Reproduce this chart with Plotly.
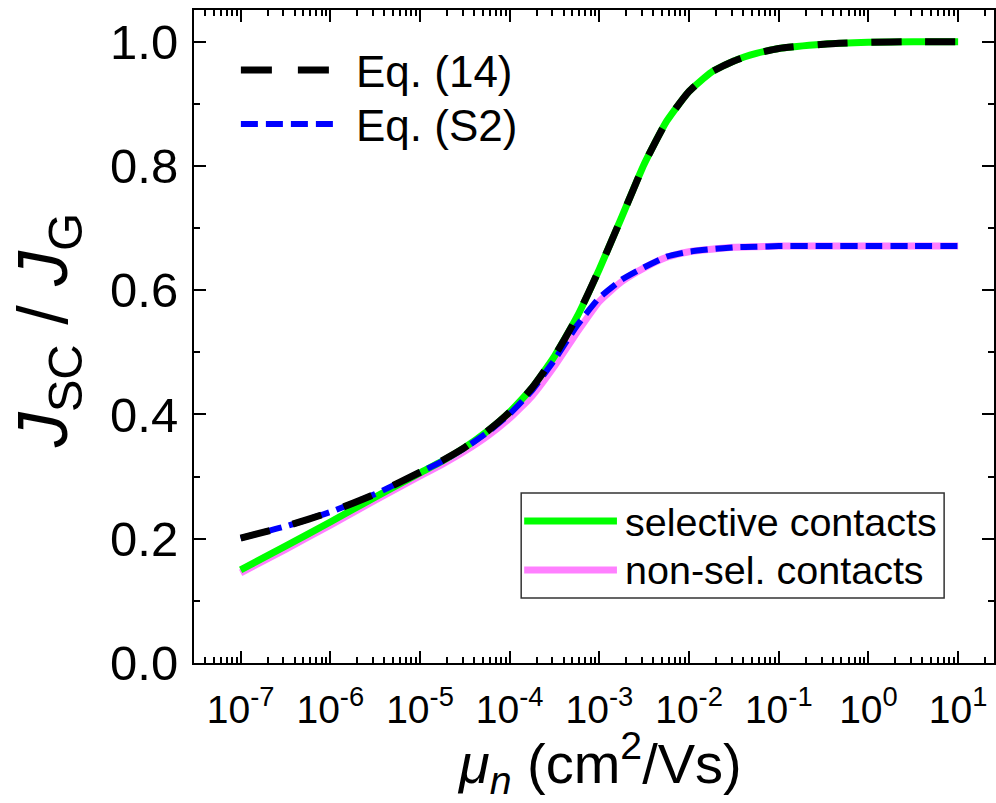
import plotly.graph_objects as go

# ---- data ----
log_mu = [-7, -6.5, -6, -5.5, -5, -4.75, -4.5, -4.25, -4, -3.75, -3.5, -3.25, -3,
          -2.75, -2.5, -2.25, -2, -1.75, -1.5, -1.25, -1, -0.5, 0, 0.5, 1]
mu = [10 ** v for v in log_mu]

selective = [0.150, 0.188, 0.227, 0.267, 0.306, 0.325, 0.347, 0.373, 0.404, 0.443,
             0.494, 0.557, 0.634, 0.718, 0.803, 0.872, 0.920, 0.951, 0.969, 0.981,
             0.989, 0.996, 0.999, 1.000, 1.000]
nonsel = [0.145, 0.183, 0.222, 0.262, 0.301, 0.320, 0.341, 0.365, 0.394, 0.430,
          0.478, 0.532, 0.582, 0.614, 0.636, 0.653, 0.662, 0.666, 0.669, 0.670,
          0.671, 0.671, 0.671, 0.671, 0.671]
eq14 = [0.201, 0.220, 0.243, 0.272, 0.307, 0.326, 0.347, 0.373, 0.404, 0.443,
        0.494, 0.557, 0.634, 0.718, 0.803, 0.872, 0.920, 0.951, 0.969, 0.981,
        0.989, 0.996, 0.999, 1.000, 1.000]
eqS2 = [0.201, 0.220, 0.243, 0.272, 0.307, 0.325, 0.346, 0.371, 0.401, 0.439,
        0.488, 0.543, 0.588, 0.617, 0.637, 0.654, 0.662, 0.666, 0.669, 0.670,
        0.671, 0.671, 0.671, 0.671, 0.671]

x_tick_exp = [-7, -6, -5, -4, -3, -2, -1, 0, 1]
x_tick_text = ["10<sup>%d</sup>" % e for e in x_tick_exp]
y_tick_vals = [0.0, 0.2, 0.4, 0.6, 0.8, 1.0]
y_tick_text = ["0.0", "0.2", "0.4", "0.6", "0.8", "1.0"]

FONT = "Liberation Sans, Arial, sans-serif"

fig = go.Figure()
fig.add_trace(go.Scatter(x=mu, y=nonsel, mode="lines", name="non-sel. contacts",
                         line=dict(color="#ff80ff", width=7, shape="spline", smoothing=0.5)))
fig.add_trace(go.Scatter(x=mu, y=selective, mode="lines", name="selective contacts",
                         line=dict(color="#00ff00", width=7, shape="spline", smoothing=0.5)))
fig.add_trace(go.Scatter(x=mu, y=eqS2, mode="lines", name="Eq. (S2)",
                         line=dict(color="#0000ff", width=6, dash="17px,8px",
                                   shape="spline", smoothing=0.5)))
fig.add_trace(go.Scatter(x=mu, y=eq14, mode="lines", name="Eq. (14)",
                         line=dict(color="#000000", width=7, dash="30px,24px",
                                   shape="spline", smoothing=0.5)))

# plot-area geometry in pixels (for legend / title placement)
L, R, T, B = 194, 996, 10, 663
def px(xp):
    return (xp - L) / (R - L)
def py(yp):
    return (B - yp) / (B - T)

shapes = []
annotations = []
# legend 1 (no frame)
shapes.append(dict(type="line", xref="paper", yref="paper", x0=px(241), x1=px(331),
                   y0=py(70), y1=py(70), line=dict(color="black", width=7, dash="31px,26px")))
shapes.append(dict(type="line", xref="paper", yref="paper", x0=px(241), x1=px(335),
                   y0=py(124), y1=py(124), line=dict(color="#0000ff", width=6, dash="17px,8px")))
annotations.append(dict(text="Eq. (14)", xref="paper", yref="paper", x=px(354), y=py(71),
                        xanchor="left", yanchor="middle", showarrow=False,
                        font=dict(family=FONT, size=44, color="black")))
annotations.append(dict(text="Eq. (S2)", xref="paper", yref="paper", x=px(354), y=py(125),
                        xanchor="left", yanchor="middle", showarrow=False,
                        font=dict(family=FONT, size=44, color="black")))
# legend 2 (framed)
shapes.append(dict(type="rect", xref="paper", yref="paper", x0=px(522), x1=px(946),
                   y0=py(598), y1=py(493), line=dict(color="#333333", width=1.5),
                   fillcolor="white", layer="below"))
shapes.append(dict(type="line", xref="paper", yref="paper", x0=px(525), x1=px(618),
                   y0=py(521), y1=py(521), line=dict(color="#00ff00", width=7)))
shapes.append(dict(type="line", xref="paper", yref="paper", x0=px(525), x1=px(618),
                   y0=py(570), y1=py(570), line=dict(color="#ff80ff", width=7)))
annotations.append(dict(text="selective contacts", xref="paper", yref="paper", x=px(624),
                        y=py(522), xanchor="left", yanchor="middle", showarrow=False,
                        font=dict(family=FONT, size=39.5, color="black")))
annotations.append(dict(text="non-sel. contacts", xref="paper", yref="paper", x=px(624),
                        y=py(570), xanchor="left", yanchor="middle", showarrow=False,
                        font=dict(family=FONT, size=39.5, color="black")))
# axis titles
annotations.append(dict(text="<i>μ<sub>n</sub></i> (cm<sup>2</sup>/Vs)", xref="paper",
                        yref="paper", x=px(601), y=py(803), xanchor="center", yanchor="bottom",
                        borderpad=0, showarrow=False,
                        font=dict(family=FONT, size=56, color="black")))
annotations.append(dict(text="<i>J</i><sub>SC</sub> / <i>J</i><sub>G</sub>", xref="paper",
                        yref="paper", x=px(48), y=py(330), xanchor="center", yanchor="middle",
                        textangle=-90, showarrow=False,
                        font=dict(family=FONT, size=70, color="black")))

minor_x = [m * 10 ** e for e in range(-8, 2) for m in range(2, 10)]

fig.update_layout(
    width=996, height=803,
    margin=dict(l=L, r=996 - R, t=T, b=803 - B),
    paper_bgcolor="white", plot_bgcolor="white",
    showlegend=False,
    font=dict(family=FONT, color="black"),
    shapes=shapes, annotations=annotations,
    xaxis=dict(
        type="log", range=[-7.52, 1.40],
        tickvals=[10 ** e for e in x_tick_exp], ticktext=x_tick_text,
        ticks="inside", ticklen=12, tickwidth=2, tickcolor="black",
        showline=True, linewidth=2, linecolor="black", mirror="allticks",
        showgrid=False, zeroline=False, ticklabelstandoff=11,
        tickfont=dict(family=FONT, size=39, color="black"),
        minor=dict(tickvals=minor_x, ticks="inside", ticklen=6, tickwidth=2,
                   tickcolor="black", showgrid=False),
    ),
    yaxis=dict(
        range=[0, 1.051],
        tickvals=y_tick_vals, ticktext=y_tick_text,
        ticks="inside", ticklen=12, tickwidth=2, tickcolor="black",
        showline=True, linewidth=2, linecolor="black", mirror="allticks",
        showgrid=False, zeroline=False, ticklabelstandoff=4,
        tickfont=dict(family=FONT, size=49, color="black"),
        minor=dict(dtick=0.1, ticks="inside", ticklen=6, tickwidth=2,
                   tickcolor="black", showgrid=False),
    ),
)

fig.write_html("out.html")
